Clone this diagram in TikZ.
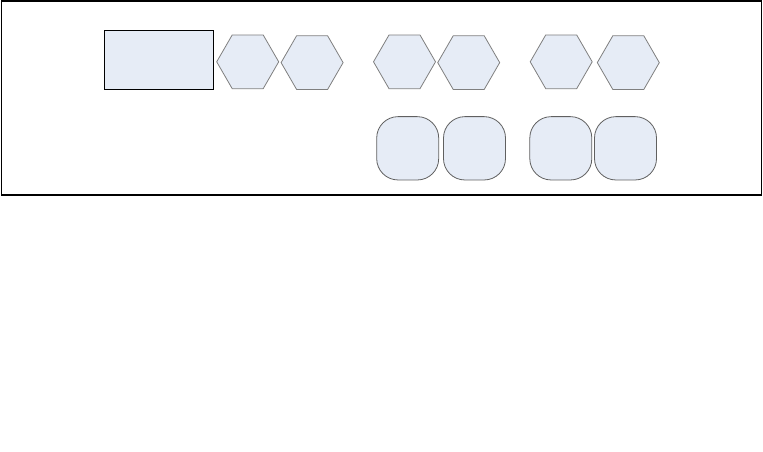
\documentclass[tikz,border=0pt]{standalone}
\usetikzlibrary{shapes.geometric}
\definecolor{boxfill}{HTML}{E6ECF6}
\definecolor{hexline}{HTML}{7F7F7F}
\definecolor{sqline}{HTML}{606060}
\begin{document}
\begin{tikzpicture}[x=0.75pt,y=-0.75pt,
  hexbox/.style={regular polygon, regular polygon sides=6, minimum size=46.5pt, inner sep=0pt, fill=boxfill, draw=hexline, line width=0.6pt},
  sqbox/.style={rectangle, rounded corners=16pt, minimum width=46.5pt, minimum height=47.5pt, inner sep=0pt, fill=boxfill, draw=sqline, line width=0.6pt},
  rectbox/.style={rectangle, minimum width=82pt, minimum height=44.2pt, inner sep=0pt, fill=boxfill, draw=black, line width=0.8pt}]
\useasboundingbox (0,0) rectangle (763,451);
\node[draw=black, line width=1.2pt, minimum width=760pt*0.75, minimum height=194.5pt*0.75, inner sep=0pt] (frame) at (381.5,98) {};
\node[rectbox] (r1) at (159,59.8) {};
\node[hexbox] (h1) at (247.7,61.8) {};
\node[hexbox] (h2) at (312.1,62.6) {};
\node[hexbox] (h3) at (404.5,61.8) {};
\node[hexbox] (h4) at (468.7,62.6) {};
\node[hexbox] (h5) at (561.2,61.8) {};
\node[hexbox] (h6) at (628.3,62.6) {};
\node[sqbox] (s1) at (407.7,148.3) {};
\node[sqbox] (s2) at (474.5,148.3) {};
\node[sqbox] (s3) at (560.8,148.3) {};
\node[sqbox] (s4) at (625.5,148.3) {};
\end{tikzpicture}
\end{document}
